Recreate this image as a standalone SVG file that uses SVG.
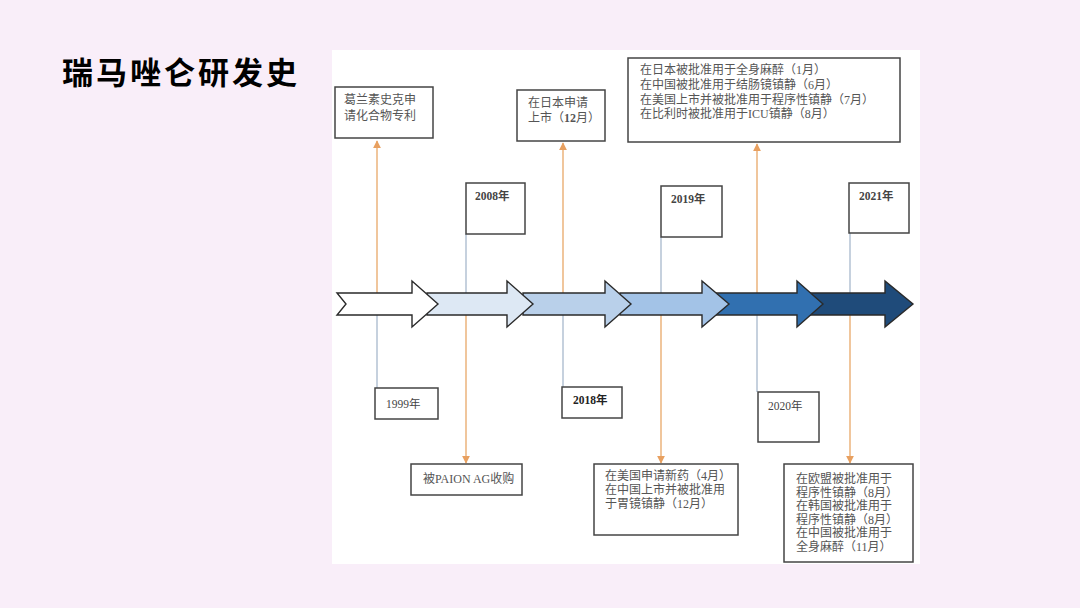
<svg xmlns="http://www.w3.org/2000/svg" width="1080" height="608" viewBox="0 0 1080 608">
<style>
.box{fill:#fff;stroke:#444;stroke-width:1.5}
.t{font-family:"Liberation Serif","Noto Sans CJK SC",serif;font-size:12px;fill:#555}
.y{font-family:"Liberation Serif","Noto Sans CJK SC",serif;font-size:11.5px;font-weight:bold;fill:#444}
.yn{font-weight:normal}
.or{stroke:#e8a868;stroke-width:1.3;fill:none}
.gr{stroke:#a8b8cc;stroke-width:1.3;fill:none}
.ar{stroke:#2a2a2a;stroke-width:1.4;stroke-linejoin:miter}
</style>
<defs>
<marker id="m" viewBox="0 0 10 10" refX="9" refY="5" markerWidth="6" markerHeight="6" orient="auto">
<path d="M0,0 L10,5 L0,10 z" fill="#e8a060"/>
</marker>
</defs>
<rect width="1080" height="608" fill="#f9eef9"/>
<rect x="332" y="50" width="588" height="514" fill="#fff"/>
<text x="62" y="84" font-family="Noto Sans CJK SC, sans-serif" font-size="31" font-weight="bold" letter-spacing="3" fill="#000">瑞马唑仑研发史</text>

<g id="connectors">
<line class="or" x1="377" y1="300" x2="377" y2="141" marker-end="url(#m)"/>
<line class="gr" x1="377" y1="300" x2="377" y2="388"/>
<line class="gr" x1="466" y1="234" x2="466" y2="300"/>
<line class="or" x1="466" y1="300" x2="466" y2="463" marker-end="url(#m)"/>
<line class="or" x1="563" y1="300" x2="563" y2="143" marker-end="url(#m)"/>
<line class="gr" x1="563" y1="300" x2="563" y2="387"/>
<line class="gr" x1="661" y1="237" x2="661" y2="300"/>
<line class="or" x1="661" y1="300" x2="661" y2="463" marker-end="url(#m)"/>
<line class="or" x1="757" y1="300" x2="757" y2="144" marker-end="url(#m)"/>
<line class="gr" x1="757" y1="300" x2="757" y2="392"/>
<line class="gr" x1="850" y1="233" x2="850" y2="300"/>
<line class="or" x1="850" y1="300" x2="850" y2="463" marker-end="url(#m)"/>
</g>

<g id="arrows">
<path class="ar" fill="#1f4b7a" d="M810,293 H885 V281 L913,304 L885,327 V315 H810 Z"/>
<path class="ar" fill="#3170b0" d="M715,293 H797 V281 L823,304 L797,327 V315 H715 Z"/>
<path class="ar" fill="#a3c3e7" d="M620,293 H702 V281 L729,304 L702,327 V315 H620 Z"/>
<path class="ar" fill="#b9d0ea" d="M523,293 H605 V281 L631,304 L605,327 V315 H523 Z"/>
<path class="ar" fill="#dde8f4" d="M427,293 H507 V281 L533,304 L507,327 V315 H427 Z"/>
<path class="ar" fill="#fff" d="M337,293 H412 V281 L438,304 L412,327 V315 H337 L346,304 Z"/>
</g>

<g id="n1"><rect class="box" x="335" y="87" width="98" height="51"/>
<text class="t" x="344" y="104">葛兰素史克申</text><text class="t" x="344" y="120">请化合物专利</text></g>

<g id="n2"><rect class="box" x="517" y="90" width="88" height="51"/>
<text class="t" x="528" y="107">在日本申请</text><text class="t" x="528" y="122">上市（<tspan font-weight="bold">12</tspan>月）</text></g>

<g id="n3"><rect class="box" x="628" y="58" width="272" height="84"/>
<text class="t" x="640" y="74">在日本被批准用于全身麻醉（1月）</text>
<text class="t" x="640" y="89">在中国被批准用于结肠镜镇静（6月）</text>
<text class="t" x="640" y="104">在美国上市并被批准用于程序性镇静（7月）</text>
<text class="t" x="640" y="118">在比利时被批准用于ICU镇静（8月）</text></g>

<g id="n4"><rect class="box" x="466" y="183" width="59" height="51"/>
<text class="y" x="475" y="200">2008年</text></g>

<g id="n5"><rect class="box" x="661" y="186" width="61" height="51"/>
<text class="y" x="671" y="203">2019年</text></g>

<g id="n6"><rect class="box" x="849" y="183" width="60" height="50"/>
<text class="y" x="859" y="200">2021年</text></g>

<g id="n7"><rect class="box" x="375" y="388" width="63" height="31"/>
<text class="y yn" x="386" y="408">1999年</text></g>

<g id="n8"><rect class="box" x="411" y="464" width="111" height="31"/>
<text class="t" x="423" y="483">被PAION AG收购</text></g>

<g id="n9"><rect class="box" x="562" y="387" width="60" height="31"/>
<text class="y" x="573" y="404" style="fill:#222">2018年</text></g>

<g id="n10"><rect class="box" x="758" y="392" width="61" height="50"/>
<text class="y yn" x="768" y="410">2020年</text></g>

<g id="n11"><rect class="box" x="594" y="464" width="144" height="71"/>
<text class="t" x="605" y="480">在美国申请新药（4月）</text>
<text class="t" x="605" y="494">在中国上市并被批准用</text>
<text class="t" x="605" y="508">于胃镜镇静（12月）</text></g>

<g id="n12"><rect class="box" x="784" y="464" width="129" height="98"/>
<text class="t" x="796" y="483">在欧盟被批准用于</text>
<text class="t" x="796" y="497">程序性镇静（8月）</text>
<text class="t" x="796" y="510">在韩国被批准用于</text>
<text class="t" x="796" y="524">程序性镇静（8月）</text>
<text class="t" x="796" y="537">在中国被批准用于</text>
<text class="t" x="796" y="551">全身麻醉（11月）</text></g>
</svg>
